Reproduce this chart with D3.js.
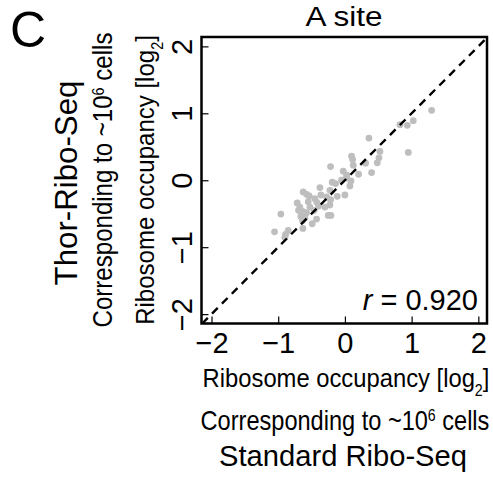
<!DOCTYPE html>
<html>
<head>
<meta charset="utf-8">
<script src="https://cdn.jsdelivr.net/npm/d3@7"></script>
<style>
  body { margin: 0; background: #fff; }
  text { font-family: "Liberation Sans", Arial, sans-serif; fill: #000; }
</style>
</head>
<body>
<div id="chart"></div>
<script>
// standard ribo-seq (x) vs thor ribo-seq (y), log2 occupancy at A site
const stdOcc = [1.30, 1.025, 0.935, 0.825, 0.95, 0.36, 0.525, 0.51, 0.485, 0.31,
  0.40, 0.205, 0.10, 0.115, 0.125, -0.025, 0.025, 0.09, 0.075, 0.0,
  -0.115, -0.14, -0.19, -0.215, -0.225, -0.215, -0.225, -0.25, -0.21, -0.375,
  -0.36, -0.42, -0.395, -0.46, -0.425, -0.49, -0.625, -0.575, -0.535, -0.55,
  -0.715, -0.695, -0.635, -0.575, -0.66, -0.60, -0.635, -0.63, -0.96, -1.055,
  -0.85, -0.89, -0.90, 0.025, -0.05, -0.275, -0.675, -0.65, -0.525, -0.30, -0.45];
const thorOcc = [1.045, 0.89, 0.82, 0.83, 0.415, 0.63, 0.43, 0.335, 0.26, 0.255,
  0.115, 0.09, 0.36, 0.31, 0.225, 0.135, 0.035, -0.01, -0.085, -0.22,
  -0.24, -0.05, -0.03, 0.205, -0.15, -0.29, -0.37, -0.525, -0.525, -0.11,
  -0.22, -0.33, -0.385, -0.45, -0.58, -0.65, -0.175, -0.21, -0.235, -0.32,
  -0.34, -0.45, -0.465, -0.485, -0.54, -0.56, -0.60, -0.72, -0.505, -0.77,
  -0.75, -0.81, -0.85, 0.075, 0.0, -0.25, -0.40, -0.50, -0.40, -0.40, -0.275];
const tickVals = [-2, -1, 0, 1, 2];
const corr = "0.920";

const W = 493, H = 478;
const svg = d3.select('#chart').append('svg')
  .attr('width', W)
  .attr('height', H);

const box = { left: 201.5, right: 487, top: 37, bottom: 323.5 };

const x = d3.scaleLinear().domain([-2.15, 2.13]).range([box.left, box.right]);
const y = d3.scaleLinear().domain([-2.14, 2.14]).range([box.bottom, box.top]);

const fmt = d => d < 0 ? '\u2212' + Math.abs(d) : String(d);

// points
svg.append('g')
  .selectAll('circle')
  .data(stdOcc.map((v, i) => [v, thorOcc[i]]))
  .enter().append('circle')
  .attr('cx', d => x(d[0]))
  .attr('cy', d => y(d[1]))
  .attr('r', 3.4)
  .style('fill', '#bebebe');

// identity line
svg.append('clipPath').attr('id', 'clip')
  .append('rect')
  .attr('x', box.left).attr('y', box.top)
  .attr('width', box.right - box.left).attr('height', box.bottom - box.top);

svg.append('line')
  .attr('clip-path', 'url(#clip)')
  .attr('x1', x(-2.14)).attr('y1', y(-2.14))
  .attr('x2', x(2.12)).attr('y2', y(2.12))
  .attr('stroke', '#000')
  .attr('stroke-width', 2.4)
  .attr('stroke-dasharray', '8,6');

// axes, ticks pointing inward
const xAxis = svg.append('g')
  .attr('transform', 'translate(0,' + box.bottom + ')')
  .call(d3.axisBottom(x).tickValues(tickVals).tickFormat(fmt).tickSizeInner(-7).tickSizeOuter(0));
xAxis.select('.domain').remove();
xAxis.selectAll('line').attr('stroke', '#000').attr('stroke-width', 1.2);
xAxis.selectAll('text')
  .attr('y', 29.5)
  .attr('dy', null)
  .attr('font-size', 29)
  .attr('fill', '#000');

const yAxis = svg.append('g')
  .attr('transform', 'translate(' + box.left + ',0)')
  .call(d3.axisLeft(y).tickValues(tickVals).tickFormat(fmt).tickSizeInner(-7).tickSizeOuter(0));
yAxis.select('.domain').remove();
yAxis.selectAll('line').attr('stroke', '#000').attr('stroke-width', 1.2);
yAxis.selectAll('text')
  .attr('transform', 'rotate(-90)')
  .attr('x', 0)
  .attr('y', -9.5)
  .attr('dy', null)
  .attr('text-anchor', 'middle')
  .attr('font-size', 29)
  .attr('fill', '#000');

// frame
svg.append('rect')
  .attr('x', box.left).attr('y', box.top)
  .attr('width', box.right - box.left).attr('height', box.bottom - box.top)
  .attr('fill', 'none')
  .attr('stroke', '#000')
  .attr('stroke-width', 2.5);

// panel letter + title
svg.append('text')
  .attr('x', 10).attr('y', 47)
  .attr('font-size', 50)
  .text('C');

// r value
const rt = svg.append('text')
  .attr('x', 478).attr('y', 310)
  .attr('text-anchor', 'end')
  .attr('font-size', 29);
rt.append('tspan').attr('font-style', 'italic').text('r');
rt.append('tspan').text(' = ' + corr);

// helpers for labels with super/subscripts
function occLabel(t) {
  t.append('tspan').text('Ribosome occupancy [log');
  t.append('tspan').attr('baseline-shift', 'sub').attr('font-size', '60%').text('2');
  t.append('tspan').text(']');
}
function cellsLabel(t) {
  t.append('tspan').text('Corresponding to ~10');
  t.append('tspan').attr('baseline-shift', 'super').attr('font-size', '60%').text('6');
  t.append('tspan').text(' cells');
}

// squeeze a label horizontally so it spans the given width (the original font is condensed)
function label(cx, cy, rot, size, width, fill) {
  const t = svg.append('text')
    .attr('text-anchor', 'middle')
    .attr('font-size', size);
  if (typeof fill === 'string') t.text(fill); else fill(t);
  const w = t.node().getComputedTextLength();
  t.attr('transform', 'translate(' + cx + ',' + cy + ')' + (rot ? ' rotate(-90)' : '') +
    ' scale(' + (width / w) + ',1)');
  return t;
}

label(344, 26, false, 27, 77, 'A site');

// bottom labels
label(346, 387, false, 26, 287, occLabel);
label(345, 430, false, 27, 289, cellsLabel);
label(343, 466, false, 30, 248, 'Standard Ribo-Seq');

// left labels (rotated)
label(153.5, 180, true, 26, 290, occLabel);
label(112, 180, true, 27, 295, cellsLabel);
label(77, 183, true, 31, 205, 'Thor-Ribo-Seq');
</script>
</body>
</html>
